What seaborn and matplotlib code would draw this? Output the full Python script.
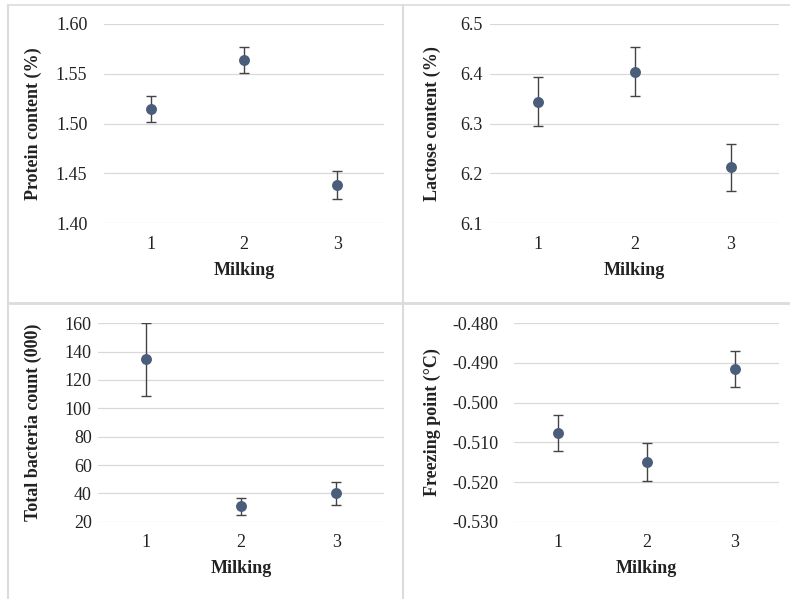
import numpy as np
import pandas as pd
import seaborn as sns
import matplotlib
matplotlib.use('Agg')
import matplotlib.pyplot as plt
from matplotlib.lines import Line2D

# values
milking = [1, 2, 3]
protein = [1.515, 1.564, 1.438]
protein_err = [0.013, 0.013, 0.014]
lactose = [6.344, 6.404, 6.212]
lactose_err = [0.049, 0.049, 0.048]
bacteria = [134.5, 30.8, 40.0]
bacteria_err = [25.7, 6.0, 8.0]
freezing = [-0.5076, -0.5149, -0.4915]
freezing_err = [0.0046, 0.0048, 0.0046]

ylabels = ['Protein content (%)', 'Lactose content (%)',
           'Total bacteria count (000)', 'Freezing point (°C)']
yticks = [np.arange(1.40, 1.601, 0.05), np.arange(6.1, 6.51, 0.1),
          np.arange(20, 161, 20), np.arange(-0.53, -0.4799, 0.01)]
yfmt = ['{:.2f}', '{:.1f}', '{:.0f}', '{:.3f}']

sns.set_style('white')
plt.rcParams['font.family'] = ['Liberation Serif', 'DejaVu Serif']

W, H = 790, 599
fig = plt.figure(figsize=(W / 100, H / 100), dpi=100)

# Excel cell borders behind the charts
lc = '#DCDCDC'
fig.add_artist(Line2D([7.5 / W, 7.5 / W], [0, 1 - 5 / H], color=lc, lw=1.5))
fig.add_artist(Line2D([7.5 / W, 1], [1 - 5 / H, 1 - 5 / H], color=lc, lw=1.2))
fig.add_artist(Line2D([403 / W, 403 / W], [0, 1 - 5 / H], color=lc, lw=1.5))
fig.add_artist(Line2D([7.5 / W, 1], [1 - 303 / H, 1 - 303 / H], color=lc, lw=2))

# axes boxes in pixels: left, right, top, bottom
boxes = [(104, 384, 24, 223.3), (490, 779, 24, 223.3),
         (98, 384, 323.3, 521.7), (514, 779, 323.3, 521.7)]
ypads = [12, 5.5, 4.5, 11.5]
label_x = [33, 432, 33, 432]

series = [(protein, protein_err), (lactose, lactose_err),
          (bacteria, bacteria_err), (freezing, freezing_err)]

for i, (vals, errs) in enumerate(series):
    l, r, t, b = boxes[i]
    ax = fig.add_axes([l / W, 1 - b / H, (r - l) / W, (b - t) / H])
    df = pd.DataFrame({'Milking': milking, 'value': vals, 'err': errs})
    ax.errorbar(df['Milking'], df['value'], yerr=df['err'], fmt='none',
                ecolor='#444444', elinewidth=1, capsize=3.8, capthick=1, zorder=2)
    sns.scatterplot(data=df, x='Milking', y='value', ax=ax, s=62,
                    color='#4A5D7B', edgecolor='#4A5D7B', linewidth=0, zorder=3)
    tk = yticks[i]
    ax.set_ylim(tk[0], tk[-1])
    ax.set_yticks(tk)
    ax.set_yticklabels([yfmt[i].format(v) for v in tk])
    ax.set_xlim(0.5, 3.5)
    ax.set_xticks(milking)
    ax.set_xticklabels([str(m) for m in milking])
    ax.grid(axis='y', color='#D9D9D9', lw=0.9)
    ax.set_axisbelow(True)
    for s in ax.spines.values():
        s.set_visible(False)
    ax.tick_params(axis='x', length=0, pad=9, labelsize=13, colors='#222222')
    ax.tick_params(axis='y', length=0, pad=ypads[i], labelsize=13, colors='#222222')
    ax.set_xlabel('Milking', fontsize=13, fontweight='bold', color='#222222')
    ax.set_ylabel(ylabels[i], fontsize=13, fontweight='bold', color='#222222')
    ax.xaxis.label.set_va('center')
    ax.yaxis.label.set_va('center')
    ax.xaxis.set_label_coords(0.5, -47 / (b - t))
    ax.yaxis.set_label_coords((label_x[i] - l) / (r - l), 0.5)

fig.savefig('out.png', dpi=100)
